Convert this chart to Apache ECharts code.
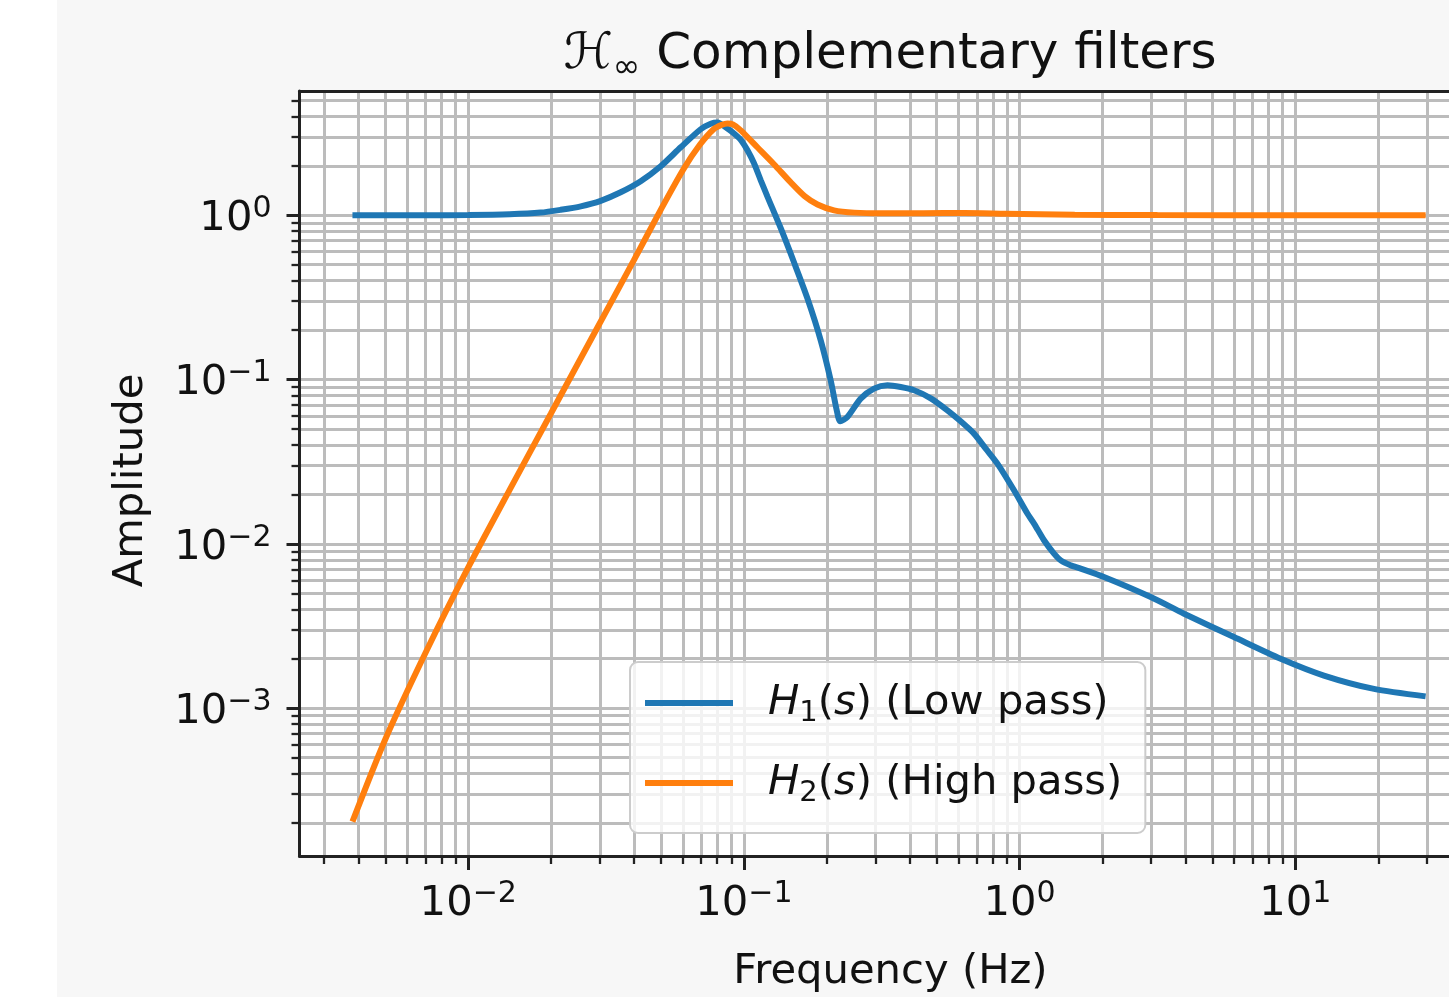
<!DOCTYPE html>
<html>
<head>
<meta charset="utf-8">
<script src="https://cdn.jsdelivr.net/npm/echarts@6/dist/echarts.min.js"></script>
<style>
html,body{margin:0;padding:0;background:#ffffff;}
#c{width:1449px;height:997px;}
</style>
</head>
<body>
<div id="c"></div>
<script>
// ---------------- data ----------------
const seriesNames = ['H1(s) (Low pass)', 'H2(s) (High pass)'];

const freqH1 = [0.003802, 0.005012, 0.007079, 0.0100, 0.01413, 0.01832, 0.02165, 0.02559, 0.03023, 0.03572,
  0.04222, 0.04990, 0.05898, 0.06969, 0.07578, 0.08015, 0.0871, 0.09206, 0.0977, 0.1030,
  0.1088, 0.1151, 0.1217, 0.1360, 0.1519, 0.1699, 0.1899, 0.2064, 0.2171, 0.2235,
  0.2373, 0.2652, 0.2963, 0.3315, 0.3704, 0.4140, 0.4761, 0.547, 0.6114, 0.6832,
  0.7535, 0.8308, 0.9543, 1.067, 1.128, 1.226, 1.333, 1.41, 1.53, 1.666,
  2.023, 2.99, 3.95, 5.99, 8.85, 12.7, 19.3, 29.7];
const ampH1 = [1.000, 1.000, 1.001, 1.004, 1.015, 1.0386, 1.080, 1.134, 1.225, 1.380,
  1.611, 1.987, 2.593, 3.339, 3.605, 3.67, 3.371, 3.143, 2.861, 2.487,
  2.073, 1.633, 1.30, 0.834, 0.5175, 0.3125, 0.1734, 0.0990, 0.0650, 0.0557,
  0.0592, 0.0766, 0.0881, 0.0923, 0.0901, 0.0861, 0.0769, 0.0650, 0.0557, 0.0469,
  0.0380, 0.0308, 0.0212, 0.0153, 0.0133, 0.01052, 0.00873, 0.00794, 0.00741, 0.00707,
  0.00629, 0.00475, 0.00376, 0.00271, 0.00200, 0.00158, 0.00131, 0.00118];

const freqH2 = [0.003802, 0.005012, 0.007079, 0.0100, 0.01413, 0.01995, 0.02818, 0.03981, 0.05012, 0.06026,
  0.06918, 0.07762, 0.08318, 0.0871, 0.0912, 0.0974, 0.1119, 0.1285, 0.1479, 0.166,
  0.1849, 0.2123, 0.2512, 0.3162, 0.4467, 0.631, 0.891, 1.585, 3.162, 10.0,
  29.7];
const ampH2 = [0.000204, 0.000652, 0.00226, 0.00719, 0.02133, 0.0622, 0.1816, 0.530, 1.094, 1.901,
  2.685, 3.342, 3.556, 3.622, 3.573, 3.289, 2.594, 2.046, 1.585, 1.309,
  1.164, 1.072, 1.038, 1.028, 1.030, 1.033, 1.023, 1.009, 1.0035, 1.0,
  1.0];

// axis limits and tick values
const xRange = [0.002443, 47.32];
const yRange = [0.000126, 5.708];
const xMajorTicks = [0.01, 0.1, 1, 10];
const xMinorTicks = [0.003, 0.004, 0.005, 0.006, 0.007, 0.008, 0.009,
  0.02, 0.03, 0.04, 0.05, 0.06, 0.07, 0.08, 0.09,
  0.2, 0.3, 0.4, 0.5, 0.6, 0.7, 0.8, 0.9,
  2, 3, 4, 5, 6, 7, 8, 9, 20, 30, 40];
const yMajorTicks = [0.001, 0.01, 0.1, 1];
const yMinorTicks = [0.0002, 0.0003, 0.0004, 0.0005, 0.0006, 0.0007, 0.0008, 0.0009,
  0.002, 0.003, 0.004, 0.005, 0.006, 0.007, 0.008, 0.009,
  0.02, 0.03, 0.04, 0.05, 0.06, 0.07, 0.08, 0.09,
  0.2, 0.3, 0.4, 0.5, 0.6, 0.7, 0.8, 0.9, 2, 3, 4, 5];

// ---------------- styling ----------------
const FF = 'DejaVu Sans';
const TXT = '#111111';
const SPINE = '#222222';
const GRID = '#bcbcbc';

const tickRich = {
  b: {fontFamily: FF, fontSize: 41.7, lineHeight: 42, padding: [8, 0, 0, 0], color: TXT},
  s: {fontFamily: FF, fontSize: 30, lineHeight: 30, verticalAlign: 'top', color: TXT}
};
function powLabel(v) {
  const e = Math.round(Math.log10(v));
  return '{b|10}{s|' + (e < 0 ? '\u2212' + (-e) : String(e)) + '}';
}

const legendRich = {
  n: {fontFamily: FF, fontSize: 41.7, lineHeight: 50, color: TXT},
  i: {fontFamily: FF, fontSize: 41.7, lineHeight: 50, fontStyle: 'italic', color: TXT},
  sub: {fontFamily: FF, fontSize: 29, lineHeight: 29, verticalAlign: 'bottom', color: TXT}
};
function legendLabel(name) {
  const m = name.match(/^H(\d)\(s\)(.*)$/);
  return '{i|H}{sub|' + m[1] + '}{n|(}{i|s}{n|)' + m[2] + '}';
}

function pairs(xs, ys) { return xs.map((x, k) => [x, ys[k]]); }

const baseX = {type: 'log', logBase: 10, gridIndex: 0, min: xRange[0], max: xRange[1]};
const baseY = {type: 'log', logBase: 10, gridIndex: 0, min: yRange[0], max: yRange[1]};

const option = {
  backgroundColor: '#f7f7f7',
  animation: false,
  graphic: [{type: 'rect', left: 0, top: 0, shape: {width: 57, height: 997}, style: {fill: '#ffffff'}, z: -10}],
  title: {
    text: '{cal|\u210B}{inf|\u221E}{n| Complementary filters}',
    left: 890, top: 25, textAlign: 'center', padding: 0,
    textStyle: {
      fontWeight: 'normal',
      rich: {
        cal: {fontFamily: FF, fontSize: 50, lineHeight: 60, fontWeight: 'normal', color: TXT},
        inf: {fontFamily: FF, fontSize: 33, lineHeight: 33, verticalAlign: 'bottom', fontWeight: 'normal', color: TXT},
        n: {fontFamily: FF, fontSize: 50, lineHeight: 60, fontWeight: 'normal', color: TXT}
      }
    }
  },
  grid: {
    left: 299.5, top: 91, right: -32.4, bottom: 141,
    show: true, backgroundColor: '#ffffff', borderWidth: 0,
    containLabel: false, outerBoundsMode: 'none'
  },
  legend: {
    data: seriesNames,
    left: 630, top: 662, orient: 'vertical',
    icon: 'rect', itemWidth: 88, itemHeight: 6, itemGap: 34,
    padding: [20, 23, 25, 15],
    backgroundColor: 'rgba(255,255,255,0.8)',
    borderColor: '#cccccc', borderWidth: 2, borderRadius: 8,
    formatter: legendLabel,
    textStyle: {padding: [0, 0, 0, 30], rich: legendRich},
    selectedMode: false
  },
  xAxis: [
    Object.assign({}, baseX, {
      position: 'bottom',
      axisLine: {show: true, onZero: false, lineStyle: {color: SPINE, width: 3}},
      axisTick: {show: true, customValues: xMajorTicks, length: 14, lineStyle: {color: SPINE, width: 3}},
      axisLabel: {show: true, customValues: xMajorTicks, formatter: powLabel, rich: tickRich, margin: 23},
      splitLine: {show: true, lineStyle: {color: GRID, width: 3}},
      minorTick: {show: false}, minorSplitLine: {show: false},
      name: 'Frequency (Hz)', nameLocation: 'middle', nameGap: 95,
      nameTextStyle: {fontFamily: FF, fontSize: 41.7, color: TXT}
    }),
    Object.assign({}, baseX, {
      position: 'bottom',
      axisLine: {show: false},
      axisTick: {show: true, customValues: xMinorTicks, length: 8, lineStyle: {color: SPINE, width: 2.3}},
      axisLabel: {show: false},
      splitLine: {show: true, lineStyle: {color: GRID, width: 3}}
    }),
    Object.assign({}, baseX, {
      position: 'top',
      axisLine: {show: true, onZero: false, lineStyle: {color: SPINE, width: 3}},
      axisTick: {show: false}, axisLabel: {show: false}, splitLine: {show: false}
    })
  ],
  yAxis: [
    Object.assign({}, baseY, {
      position: 'left',
      axisLine: {show: true, onZero: false, lineStyle: {color: SPINE, width: 3}},
      axisTick: {show: true, customValues: yMajorTicks, length: 13, lineStyle: {color: SPINE, width: 3}},
      axisLabel: {show: true, customValues: yMajorTicks, formatter: powLabel, rich: tickRich, margin: 28},
      splitLine: {show: true, lineStyle: {color: GRID, width: 3}},
      minorTick: {show: false}, minorSplitLine: {show: false},
      name: 'Amplitude', nameLocation: 'middle', nameGap: 147,
      nameTextStyle: {fontFamily: FF, fontSize: 41.7, color: TXT, padding: [0, 14, 0, 0]}
    }),
    Object.assign({}, baseY, {
      position: 'left',
      axisLine: {show: false},
      axisTick: {show: true, customValues: yMinorTicks, length: 8, lineStyle: {color: SPINE, width: 2.3}},
      axisLabel: {show: false},
      splitLine: {show: true, lineStyle: {color: GRID, width: 3}}
    })
  ],
  series: [
    {
      name: seriesNames[0], type: 'line', xAxisIndex: 0, yAxisIndex: 0,
      data: pairs(freqH1, ampH1), showSymbol: false, symbol: 'none', smooth: 0.25,
      itemStyle: {color: '#1f77b4'}, lineStyle: {color: '#1f77b4', width: 6}, z: 5
    },
    {
      name: seriesNames[1], type: 'line', xAxisIndex: 0, yAxisIndex: 0,
      data: pairs(freqH2, ampH2), showSymbol: false, symbol: 'none', smooth: 0.25,
      itemStyle: {color: '#ff7f0e'}, lineStyle: {color: '#ff7f0e', width: 6}, z: 6
    }
  ]
};

const chart = echarts.init(document.getElementById('c'), null, {renderer: 'canvas', width: 1449, height: 997});
chart.setOption(option);
</script>
</body>
</html>
